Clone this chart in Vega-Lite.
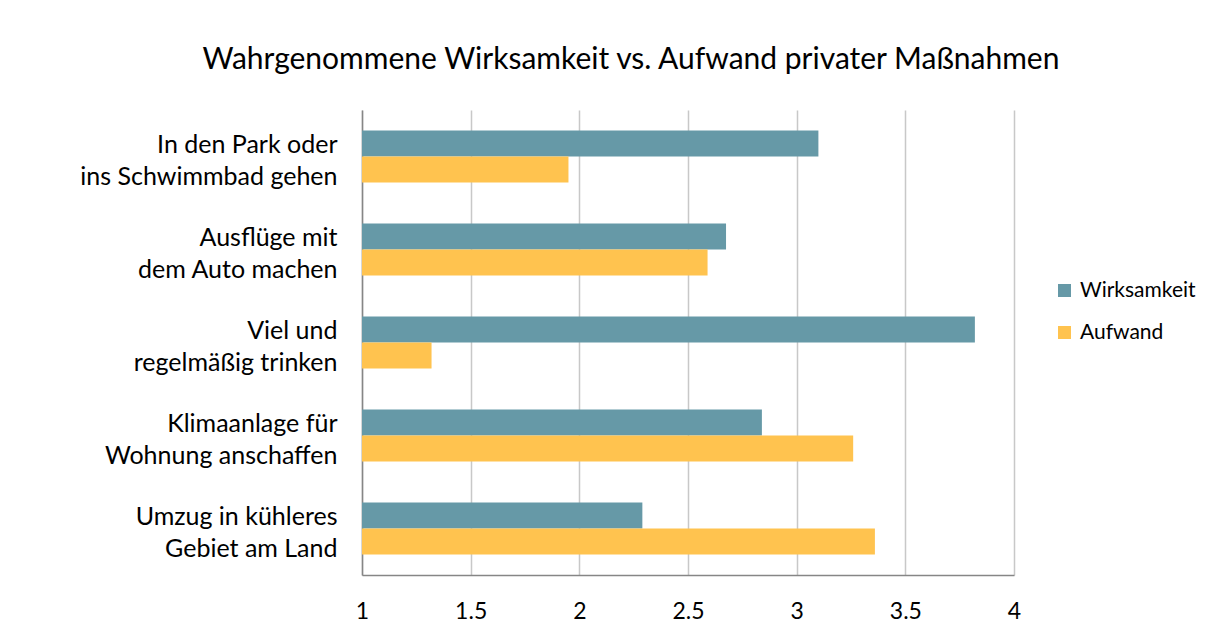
{
  "$schema": "https://vega.github.io/schema/vega-lite/v6.json",
  "autosize": "none",
  "width": 652,
  "height": 465,
  "padding": {"left": 362, "top": 110, "right": 199, "bottom": 62},
  "background": "white",
  "title": {
    "text": "Wahrgenommene Wirksamkeit vs. Aufwand privater Maßnahmen",
    "font": "Lato",
    "fontSize": 30,
    "fontWeight": "normal",
    "color": "#000000",
    "anchor": "middle",
    "dx": -57,
    "offset": 35
  },
  "data": {
    "values": [
      {"massnahme": "In den Park oder|ins Schwimmbad gehen", "reihe": "Wirksamkeit", "wert": 3.10, "ord": 1},
      {"massnahme": "In den Park oder|ins Schwimmbad gehen", "reihe": "Aufwand", "wert": 1.95, "ord": 1},
      {"massnahme": "Ausflüge mit|dem Auto machen", "reihe": "Wirksamkeit", "wert": 2.675, "ord": 2},
      {"massnahme": "Ausflüge mit|dem Auto machen", "reihe": "Aufwand", "wert": 2.59, "ord": 2},
      {"massnahme": "Viel und|regelmäßig trinken", "reihe": "Wirksamkeit", "wert": 3.82, "ord": 3},
      {"massnahme": "Viel und|regelmäßig trinken", "reihe": "Aufwand", "wert": 1.32, "ord": 3},
      {"massnahme": "Klimaanlage für|Wohnung anschaffen", "reihe": "Wirksamkeit", "wert": 2.84, "ord": 4},
      {"massnahme": "Klimaanlage für|Wohnung anschaffen", "reihe": "Aufwand", "wert": 3.26, "ord": 4},
      {"massnahme": "Umzug in kühleres|Gebiet am Land", "reihe": "Wirksamkeit", "wert": 2.29, "ord": 5},
      {"massnahme": "Umzug in kühleres|Gebiet am Land", "reihe": "Aufwand", "wert": 3.36, "ord": 5}
    ]
  },
  "mark": {"type": "bar"},
  "encoding": {
    "y": {
      "field": "massnahme",
      "type": "nominal",
      "sort": {"field": "ord", "op": "min", "order": "ascending"},
      "scale": {"paddingInner": 0.44, "paddingOuter": 0.22},
      "axis": {
        "title": null,
        "labelExpr": "split(datum.label, '|')",
        "labelFont": "Lato",
        "labelFontSize": 25,
        "labelColor": "#000000",
        "labelLineHeight": 32,
        "labelPadding": 25,
        "labelOffset": -12,
        "ticks": false,
        "domain": true,
        "domainColor": "#868686",
        "domainWidth": 1.5,
        "labelLimit": 400
      }
    },
    "yOffset": {
      "field": "reihe",
      "type": "nominal",
      "sort": ["Wirksamkeit", "Aufwand"],
      "scale": {"paddingInner": 0, "paddingOuter": 0}
    },
    "x": {
      "field": "wert",
      "type": "quantitative",
      "scale": {"domain": [1, 4], "zero": false, "nice": false},
      "axis": {
        "title": null,
        "values": [1, 1.5, 2, 2.5, 3, 3.5, 4],
        "format": "~g",
        "labelFont": "Lato",
        "labelFontSize": 23,
        "labelColor": "#000000",
        "labelPadding": 25,
        "labelFlush": false,
        "ticks": false,
        "grid": true,
        "gridColor": "#c8c8c8",
        "gridWidth": 1.5,
        "domainColor": "#868686",
        "domainWidth": 1.5
      }
    },
    "x2": {"datum": 1},
    "color": {
      "field": "reihe",
      "type": "nominal",
      "sort": ["Wirksamkeit", "Aufwand"],
      "scale": {"domain": ["Wirksamkeit", "Aufwand"], "range": ["#6699a7", "#ffc34f"]},
      "legend": {
        "title": null,
        "orient": "none",
        "legendX": 692,
        "legendY": 170,
        "symbolType": "square",
        "symbolSize": 169,
        "symbolStrokeWidth": 0,
        "labelFont": "Lato",
        "labelFontSize": 21,
        "labelColor": "#000000",
        "rowPadding": 20,
        "labelOffset": 5
      }
    }
  },
  "config": {
    "view": {"stroke": null}
  }
}
